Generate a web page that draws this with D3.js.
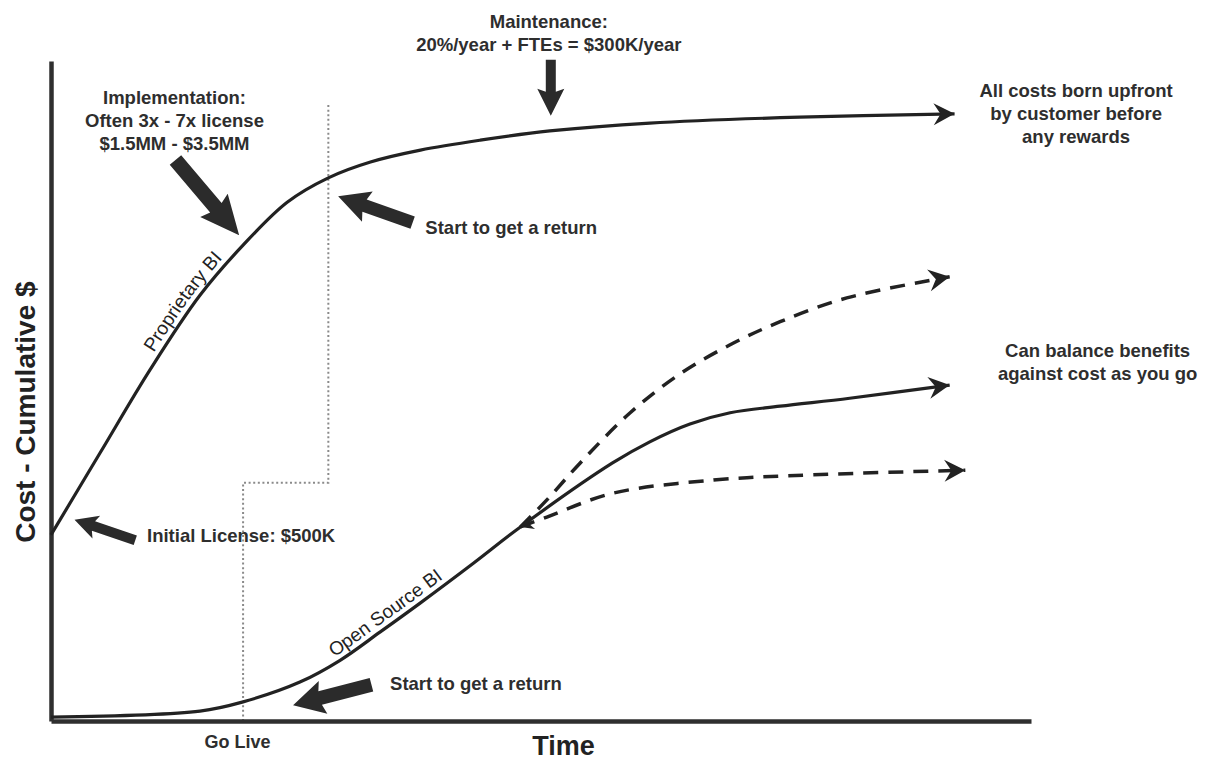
<!DOCTYPE html>
<html>
<head>
<meta charset="utf-8">
<script src="https://cdn.jsdelivr.net/npm/d3@7"></script>
<style>
  html, body { margin: 0; background: #fff; }
  svg { display: block; }
</style>
</head>
<body>
<svg id="chart" width="1209" height="762"></svg>
<script>
// Time and cumulative cost are relative units (0–100) on both axes.
const proprietaryTime = [0, 5.0, 10.1, 15.2, 19.6, 24.1, 28.3, 32.6, 37.7, 43.8, 50.9, 61.1, 76.4, 92.2];
const proprietaryCost = [28.2, 40.6, 53.2, 64.5, 72.1, 78.6, 82.3, 84.7, 86.5, 88.0, 89.4, 90.6, 91.5, 92.0];

const openSourceTime = [0, 15.2, 19.6, 25.4, 29.5, 33.6, 37.7, 43.1, 47.9, 57.3, 61.1, 65.2, 69.3, 74.4, 81.5, 91.7];
const openSourceCost = [0.6, 1.5, 2.9, 5.9, 9.2, 13.5, 17.9, 23.9, 29.4, 39.1, 42.3, 45.0, 46.7, 47.7, 48.9, 50.9];

// Alternative open-source paths branching off mid-way
const highCaseTime = [47.9, 50.6, 54.0, 59.1, 64.2, 69.3, 74.4, 81.2, 91.7];
const highCaseCost = [29.4, 33.5, 39.1, 46.7, 52.6, 57.0, 60.5, 64.1, 67.3];
const lowCaseTime = [47.9, 50.6, 57.3, 67.6, 77.8, 93.3];
const lowCaseCost = [29.4, 30.9, 34.5, 36.5, 37.3, 38.0];

// Milestones
const goLiveTime = 19.6;
const proprietaryReturnTime = 28.3;
const stepLevelCost = 36.1;
const stepTopCost = 93.5;
const xTickLabels = ["Go Live"];

// Callout texts and where they sit (time, cost)
const calloutLines = [
  ["Implementation:", "Often 3x - 7x license", "$1.5MM - $3.5MM"],
  ["Maintenance:", "20%/year + FTEs = $300K/year"],
  ["All costs born upfront", "by customer before", "any rewards"],
  ["Can balance benefits", "against cost as you go"],
  ["Start to get a return"],
  ["Initial License: $500K"],
  ["Start to get a return"]
];
const calloutTime = [12.6, 50.8, 104.6, 106.8, 38.2, 9.8, 34.6];
const calloutCost = [93.5, 105.0, 94.5, 55.2, 73.8, 27.1, 4.7];
const calloutAnchor = ["middle", "middle", "middle", "middle", "start", "start", "start"];

// Block pointers: from (time, cost) to (time, cost)
const pointerFromTime = [12.7, 51.0, 36.9, 8.6, 32.7];
const pointerFromCost = [85.0, 100.2, 75.5, 27.4, 5.5];
const pointerToTime = [19.2, 51.0, 29.3, 2.4, 24.7];
const pointerToCost = [73.6, 91.7, 79.5, 30.5, 2.4];
// shaft width, head width, head length
const pointerShape = [[15, 36, 36], [10, 27, 24], [13, 32, 28], [10, 24, 20], [14, 34, 28]];

const seriesLabels = ["Proprietary BI", "Open Source BI"];
const seriesLabelStartTime = [11.0, 29.2];

const FONT = "'Liberation Sans', Arial, Helvetica, sans-serif";
const INK = "#222";
const TEXT = "#2e2e2e";

const svg = d3.select("#chart");
const x = d3.scaleLinear().domain([0, 100]).range([51, 1031]);
const y = d3.scaleLinear().domain([0, 100]).range([721, 61]);

const zip = (ts, cs) => ts.map((t, i) => [t, cs[i]]);
const line = d3.line().x(d => x(d[0])).y(d => y(d[1])).curve(d3.curveCatmullRom.alpha(0.5));

// Arrowheads for the curves
const defs = svg.append("defs");
defs.append("marker")
  .attr("id", "head")
  .attr("markerUnits", "userSpaceOnUse")
  .attr("viewBox", "-22 -12 24 24")
  .attr("markerWidth", 24).attr("markerHeight", 24)
  .attr("refX", 0).attr("refY", 0)
  .attr("orient", "auto")
  .append("path")
  .attr("d", "M0,0 L-21,-11 L-14,0 L-21,11 Z")
  .attr("fill", INK);
defs.append("marker")
  .attr("id", "smallHead")
  .attr("markerUnits", "userSpaceOnUse")
  .attr("viewBox", "-14 -8 16 16")
  .attr("markerWidth", 16).attr("markerHeight", 16)
  .attr("refX", 0).attr("refY", 0)
  .attr("orient", "auto-start-reverse")
  .append("path")
  .attr("d", "M0,0 L-13,-7 L-9,0 L-13,7 Z")
  .attr("fill", INK);

// Dotted step showing go-live / return points
const stepPts = [
  [goLiveTime, 0], [goLiveTime, stepLevelCost],
  [proprietaryReturnTime, stepLevelCost], [proprietaryReturnTime, stepTopCost]
];
svg.append("path")
  .attr("d", d3.line().x(d => x(d[0])).y(d => y(d[1]))(stepPts))
  .attr("fill", "none")
  .attr("stroke", "#8a8a8a")
  .attr("stroke-width", 2)
  .attr("stroke-dasharray", "2,2.6");

// Axes
const xAxis = d3.axisBottom(x)
  .tickValues([goLiveTime])
  .tickFormat((d, i) => xTickLabels[i])
  .tickSize(0).tickSizeOuter(0).tickPadding(14);
const gx = svg.append("g").attr("transform", `translate(0,${y(0)})`).call(xAxis);
gx.select(".domain").attr("stroke", "#2f2f2f").attr("stroke-width", 4.5);
gx.selectAll(".tick text")
  .attr("dx", -6)
  .attr("font-family", FONT).attr("font-weight", "bold")
  .attr("font-size", 18).attr("fill", TEXT);

const yAxis = d3.axisLeft(y).tickValues([]).tickSizeOuter(0);
const gy = svg.append("g").attr("transform", `translate(${x(0)},0)`).call(yAxis);
gy.select(".domain").attr("stroke", "#2f2f2f").attr("stroke-width", 4.5);

svg.append("text")
  .attr("x", x(52.3)).attr("y", 755)
  .attr("text-anchor", "middle")
  .attr("font-family", FONT).attr("font-weight", "bold")
  .attr("font-size", 27).attr("fill", INK)
  .text("Time");

svg.append("text")
  .attr("transform", `translate(35,${y(46.8)}) rotate(-90)`)
  .attr("text-anchor", "middle")
  .attr("font-family", FONT).attr("font-weight", "bold")
  .attr("font-size", 28).attr("fill", INK)
  .text("Cost - Cumulative $");

// Cost curves
const propPath = svg.append("path")
  .attr("id", "proprietary")
  .attr("d", line(zip(proprietaryTime, proprietaryCost)))
  .attr("fill", "none").attr("stroke", INK).attr("stroke-width", 3.2)
  .attr("marker-end", "url(#head)");

svg.append("path")
  .attr("d", line(zip(highCaseTime, highCaseCost)))
  .attr("fill", "none").attr("stroke", INK).attr("stroke-width", 3.5)
  .attr("stroke-dasharray", "15,10")
  .attr("marker-end", "url(#head)");

svg.append("path")
  .attr("d", line(zip(lowCaseTime, lowCaseCost)))
  .attr("fill", "none").attr("stroke", INK).attr("stroke-width", 3.5)
  .attr("stroke-dasharray", "15,10")
  .attr("marker-start", "url(#smallHead)")
  .attr("marker-end", "url(#head)");

const osPath = svg.append("path")
  .attr("id", "opensource")
  .attr("d", line(zip(openSourceTime, openSourceCost)))
  .attr("fill", "none").attr("stroke", INK).attr("stroke-width", 3.2)
  .attr("marker-end", "url(#head)");

// Series labels laid along their curves
function offsetAtX(node, px) {
  let lo = 0, hi = node.getTotalLength();
  for (let k = 0; k < 40; k++) {
    const mid = (lo + hi) / 2;
    if (node.getPointAtLength(mid).x < px) lo = mid; else hi = mid;
  }
  return lo;
}
[propPath, osPath].forEach((p, i) => {
  svg.append("text")
    .attr("dy", -6)
    .attr("font-family", FONT).attr("font-size", 19).attr("fill", INK)
    .append("textPath")
    .attr("href", "#" + p.attr("id"))
    .attr("startOffset", offsetAtX(p.node(), x(seriesLabelStartTime[i])))
    .text(seriesLabels[i]);
});

// Block pointers
pointerFromTime.forEach((t0, i) => {
  const x0 = x(t0), y0 = y(pointerFromCost[i]);
  const x1 = x(pointerToTime[i]), y1 = y(pointerToCost[i]);
  const [sw, hw, hl] = pointerShape[i];
  const len = Math.hypot(x1 - x0, y1 - y0);
  const ux = (x1 - x0) / len, uy = (y1 - y0) / len;
  const nx = -uy, ny = ux;
  const bx = x1 - ux * hl, by = y1 - uy * hl;
  const pts = [
    [x0 + nx * sw / 2, y0 + ny * sw / 2],
    [bx + nx * sw / 2, by + ny * sw / 2],
    [bx + nx * hw / 2 - ux * 3, by + ny * hw / 2 - uy * 3],
    [x1, y1],
    [bx - nx * hw / 2 - ux * 3, by - ny * hw / 2 - uy * 3],
    [bx - nx * sw / 2, by - ny * sw / 2],
    [x0 - nx * sw / 2, y0 - ny * sw / 2]
  ];
  svg.append("path")
    .attr("d", "M" + pts.map(p => p.join(",")).join("L") + "Z")
    .attr("fill", "#2b2b2b");
});

// Callout texts
calloutLines.forEach((lines, i) => {
  const t = svg.append("text")
    .attr("x", x(calloutTime[i])).attr("y", y(calloutCost[i]))
    .attr("text-anchor", calloutAnchor[i])
    .attr("font-family", FONT).attr("font-weight", "bold")
    .attr("font-size", 18.5).attr("fill", TEXT);
  lines.forEach((s, j) => {
    t.append("tspan")
      .attr("x", x(calloutTime[i]))
      .attr("dy", j === 0 ? 0 : 23)
      .text(s);
  });
});
</script>
</body>
</html>
